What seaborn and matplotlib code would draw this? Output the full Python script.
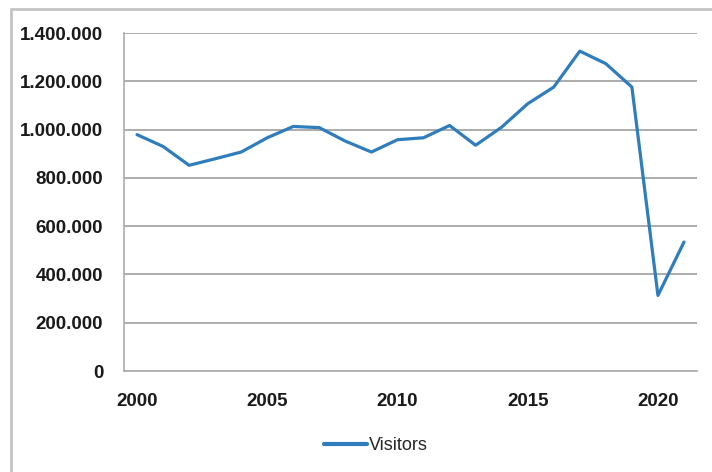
import numpy as np
import pandas as pd
import seaborn as sns
import matplotlib.pyplot as plt
from matplotlib.ticker import FuncFormatter, MultipleLocator
from matplotlib.patches import Rectangle

# values
years = list(range(2000, 2022))
visitors = [979000, 930000, 852000, 879000, 907000, 966000, 1013000, 1008000,
            952000, 907000, 958000, 966000, 1017000, 935000, 1010000, 1107000,
            1176000, 1325000, 1273000, 1176000, 313000, 534000]
series_name = "Visitors"
year_labels = [2000, 2005, 2010, 2015, 2020]

df = pd.DataFrame({"Year": years, "Visitors": visitors})

sns.set_style("white")
plt.rcParams['font.family'] = ['Liberation Sans', 'DejaVu Sans']

fig = plt.figure(figsize=(7.12, 4.72), dpi=100)
ax = fig.add_axes([124 / 712, 1 - 371 / 472, (697 - 124) / 712, (371 - 33) / 472])

sns.lineplot(data=df, x="Year", y="Visitors", ax=ax, color="#2f7dbd",
             linewidth=2.3, label=series_name)

grid_col = "#acacac"
ax.set_xlim(years[0] - 0.5, years[-1] + 0.5)
ax.set_ylim(0, 1400000)
ax.yaxis.set_major_locator(MultipleLocator(200000))
ax.yaxis.set_major_formatter(FuncFormatter(lambda v, p: f"{v:,.0f}".replace(",", ".")))
ax.grid(axis="y", color=grid_col, linewidth=1.4)
ax.set_axisbelow(True)

ax.set_xticks(year_labels)
ax.set_xticks(np.arange(years[0] - 0.5, years[-1] + 1), minor=True)
ax.tick_params(axis="x", which="major", length=0, pad=16)
ax.tick_params(axis="x", which="minor", length=6, width=1.2, color=grid_col, direction="out")
ax.tick_params(axis="y", which="major", length=7, width=1.2, color=grid_col, direction="out", pad=8)
for lab in ax.get_xticklabels() + ax.get_yticklabels():
    lab.set_fontsize(13.5)
    lab.set_fontweight("bold")
    lab.set_color("#1a1a1a")

sns.despine(ax=ax, top=True, right=True)
for side in ["left", "bottom"]:
    ax.spines[side].set_color(grid_col)
    ax.spines[side].set_linewidth(1.2)

ax.set_xlabel("")
ax.set_ylabel("")

leg = ax.legend(loc="center", bbox_to_anchor=(0.44, -0.22), frameon=False,
                fontsize=13, handlelength=2.4, handletextpad=0.1)
for line in leg.get_lines():
    line.set_linewidth(3)

# outer chart border
fig.patches.append(Rectangle((11 / 712, -0.05), 1.0, 1 - 9 / 472 + 0.05,
                             transform=fig.transFigure, fill=False,
                             edgecolor="#c4c4c4", linewidth=2))

fig.savefig("out.png", dpi=100)
